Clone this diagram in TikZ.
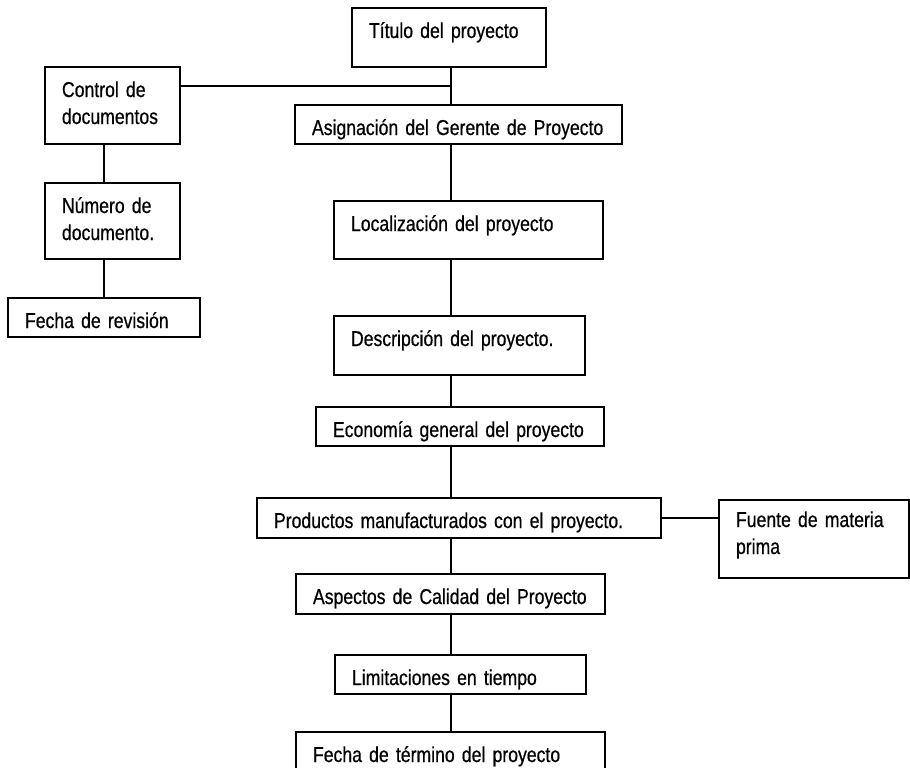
\documentclass[tikz,border=0pt]{standalone}
\usepackage{fontspec}
\setmainfont{Liberation Sans}[FakeStretch=0.82,FakeBold=0.6,WordSpace=0.8]
\usetikzlibrary{calc}

\begin{document}
\begin{tikzpicture}[x=1pt,y=-1pt]
	\tikzset{box/.style 2 args={draw, line width=1.8pt, outer sep=0pt, anchor=north west,
			inner xsep=17pt, inner ysep=0pt, align=left, font=\fontsize{21.5}{27}\selectfont,
			minimum width=#1pt, text width=#1pt-34pt, text height=30pt, text depth=#2pt-30pt}}
	\tikzset{link/.style={line width=1.8pt}}
	\useasboundingbox (0,0) rectangle (910,768);
	\clip (0,0) rectangle (910,768);
	% right column
	\node[box={194}{59}] (tit) at (352,8) {Título del proyecto};
	\node[box={327}{39}] (asg) at (295,105) {Asignación del Gerente de Proyecto};
	\node[box={269}{58}] (loc) at (334,201) {Localización del proyecto};
	\node[box={251}{59}] (des) at (334,316) {Descripción del proyecto.};
	\node[box={288}{39}] (eco) at (316,407) {Economía general del proyecto};
	\node[box={404}{40}] (pro) at (257,498) {Productos manufacturados con el proyecto.};
	\node[box={309}{40}] (asp) at (296,574) {Aspectos de Calidad del Proyecto};
	\node[box={251}{39}] (lim) at (335,655) {Limitaciones en tiempo};
	\node[box={309}{50}] (fin) at (296,732) {Fecha de término del proyecto};
	\node[box={190}{78}, text height=27pt, text depth=51pt] (fue) at (719,500) {Fuente de materia\\prima};
	% left column
	\node[box={135}{77}] (ctl) at (45,67) {Control de\\documentos};
	\node[box={135}{76}] (num) at (45,183) {Número de\\documento.};
	\node[box={192}{39}] (fre) at (8,298) {Fecha de revisión};
	% connectors
	\coordinate (t) at (451,0);
	\coordinate (l) at (104,0);
	\foreach \a/\b in {tit/asg,asg/loc,loc/des,des/eco,eco/pro,pro/asp,asp/lim,lim/fin}
		\draw[link] (\a.south -| t) -- (\b.north -| t);
	\coordinate (j) at ([yshift=-19pt]tit.south -| t);
	\draw[link] ([yshift=-19pt]ctl.north east) -- (j);
	\draw[link] (ctl.south -| l) -- (num.north -| l);
	\draw[link] (num.south -| l) -- (fre.north -| l);
	\draw[link] (pro.east) -- (pro.east -| fue.west);
\end{tikzpicture}
\end{document}
